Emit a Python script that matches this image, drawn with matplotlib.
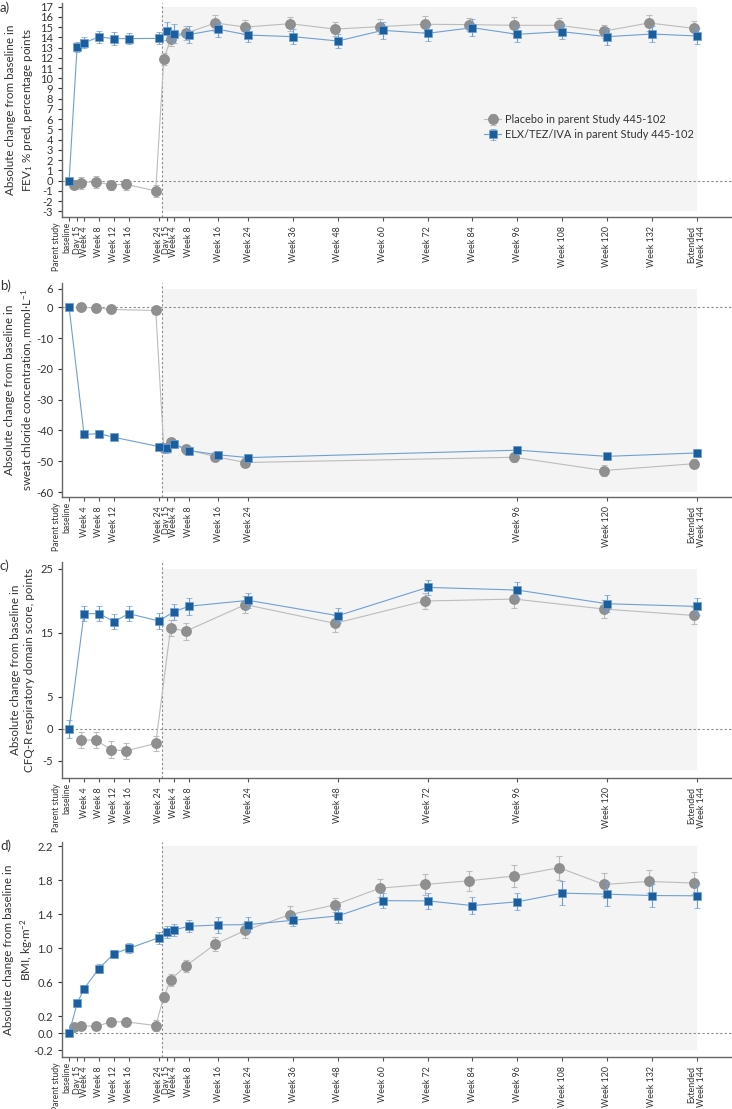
import matplotlib
matplotlib.use("Agg")
import matplotlib.pyplot as plt
import numpy as np

plt.rcParams["font.family"] = ["Lato", "DejaVu Sans"]
plt.rcParams["axes.unicode_minus"] = False
plt.rcParams["mathtext.default"] = "regular"

DAY15 = 15 / 7

# ---- a) FEV1 % pred
a_parent_weeks = [DAY15, 4, 8, 12, 16, 24]
a_ext_weeks = [DAY15, 4, 8, 16, 24, 36, 48, 60, 72, 84, 96, 108, 120, 132, 144]
a_parent_labels = ["Day 15", "Week 4", "Week 8", "Week 12", "Week 16", "Week 24"]
a_ext_labels = ["Day 15", "Week 4", "Week 8", "Week 16", "Week 24", "Week 36", "Week 48",
                "Week 60", "Week 72", "Week 84", "Week 96", "Week 108", "Week 120",
                "Week 132", "Extended\nWeek 144"]
a_pbo = [-0.39, -0.2, -0.1, -0.42, -0.36, -1.0,
         11.85, 13.83, 14.39, 15.4, 15.0, 15.33, 14.8, 15.04, 15.27, 15.24, 15.17, 15.17,
         14.6, 15.4, 14.88]
a_pbo_err = [0.45, 0.6, 0.6, 0.5, 0.55, 0.6,
             0.6, 0.7, 0.7, 0.75, 0.65, 0.7, 0.7, 0.7, 0.8, 0.65, 0.8, 0.7, 0.65, 0.75, 0.7]
a_elx = [0, 13.08, 13.47, 14.03, 13.87, 13.87, 13.9,
         14.6, 14.36, 14.26, 14.78, 14.22, 14.06, 13.64, 14.68, 14.39, 14.94, 14.29, 14.55,
         14.06, 14.32, 14.13]
a_elx_err = [0, 0.5, 0.55, 0.6, 0.6, 0.55, 0.6,
             0.85, 0.9, 0.85, 0.75, 0.7, 0.75, 0.7, 0.8, 0.8, 0.8, 0.75, 0.75, 0.8, 0.8, 0.8]

# ---- b) sweat chloride
b_parent_weeks = [4, 8, 12, 24]
b_ext_weeks = [DAY15, 4, 8, 16, 24, 96, 120, 144]
b_parent_labels = ["Week 4", "Week 8", "Week 12", "Week 24"]
b_ext_labels = ["Day 15", "Week 4", "Week 8", "Week 16", "Week 24", "Week 96", "Week 120",
                "Extended\nWeek 144"]
b_pbo = [0.0, -0.2, -0.7, -1.0,
         -45.6, -43.7, -46.1, -48.5, -50.4, -48.7, -53.0, -50.8]
b_pbo_err = [0.8, 0.8, 0.9, 1.0,
             1.3, 1.4, 1.4, 1.5, 1.4, 1.5, 1.7, 1.5]
b_elx = [0, -41.3, -41.0, -42.2, -45.2,
         -45.8, -44.4, -46.5, -47.9, -48.8, -46.4, -48.4, -47.3]
b_elx_err = [0, 1.0, 1.0, 1.0, 1.2,
             1.4, 1.3, 1.3, 1.2, 1.2, 1.3, 1.2, 1.2]

# ---- c) CFQ-R respiratory domain
c_parent_weeks = [4, 8, 12, 16, 24]
c_ext_weeks = [4, 8, 24, 48, 72, 96, 120, 144]
c_parent_labels = ["Week 4", "Week 8", "Week 12", "Week 16", "Week 24"]
c_ext_labels = ["Week 4", "Week 8", "Week 24", "Week 48", "Week 72", "Week 96", "Week 120",
                "Extended\nWeek 144"]
c_pbo = [-1.77, -1.77, -3.27, -3.48, -2.29,
         15.75, 15.23, 19.39, 16.46, 19.95, 20.26, 18.7, 17.7]
c_pbo_err = [1.2, 1.2, 1.3, 1.3, 1.2,
             1.3, 1.3, 1.3, 1.3, 1.3, 1.4, 1.4, 1.3]
c_elx = [0, 17.98, 17.98, 16.74, 17.98, 16.84,
         18.24, 19.13, 20.06, 17.66, 22.08, 21.67, 19.53, 19.11]
c_elx_err = [1.4, 1.2, 1.2, 1.2, 1.2, 1.2,
             1.3, 1.3, 1.2, 1.2, 1.2, 1.3, 1.3, 1.3]

# ---- d) BMI
d_parent_weeks = [DAY15, 4, 8, 12, 16, 24]
d_ext_weeks = [DAY15, 4, 8, 16, 24, 36, 48, 60, 72, 84, 96, 108, 120, 132, 144]
d_parent_labels = a_parent_labels
d_ext_labels = a_ext_labels
d_pbo = [0.075, 0.09, 0.079, 0.134, 0.134, 0.09,
         0.426, 0.63, 0.79, 1.05, 1.21, 1.396, 1.51, 1.707, 1.75, 1.794, 1.85, 1.948,
         1.75, 1.786, 1.767]
d_pbo_err = [0.03, 0.04, 0.04, 0.05, 0.05, 0.06,
             0.06, 0.07, 0.07, 0.08, 0.09, 0.1, 0.08, 0.11, 0.12, 0.12, 0.13, 0.14,
             0.13, 0.14, 0.13]
d_elx = [0, 0.35, 0.524, 0.761, 0.935, 0.998, 1.124,
         1.19, 1.214, 1.258, 1.274, 1.278, 1.329, 1.38, 1.56, 1.557, 1.502, 1.546, 1.648,
         1.636, 1.62, 1.617]
d_elx_err = [0, 0.04, 0.04, 0.05, 0.05, 0.06, 0.07,
             0.07, 0.07, 0.07, 0.09, 0.09, 0.07, 0.08, 0.09, 0.09, 0.1, 0.1, 0.14,
             0.14, 0.14, 0.14]

GREY = "#8f8f8f"
GREY_LIGHT = "#bcbcbc"
BLUE = "#1b5e9e"
BLUE_LIGHT = "#6f9fd2"
SPLIT = 24.8

fig = plt.figure(figsize=(7.32, 11.09), dpi=100)
H = 1109
W = 732


def draw_panel(ax, parent_weeks, ext_weeks, parent_labels, ext_labels,
               pbo, pbo_err, elx, elx_err, yticks, ylim, shade_y, ylabel):
    parent_x = list(parent_weeks)
    ext_x = [24 + w for w in ext_weeks]
    visit_x = np.array(parent_x + ext_x)
    elx_x = np.concatenate([[0], visit_x])

    # open-label extension shading, zero line and split line
    ax.fill_between([SPLIT, 168], shade_y[0], shade_y[1], color="#f4f4f4", lw=0, zorder=0)
    ax.axhline(0, color="#8a8a8a", lw=0.8, ls=(0, (2, 2)), zorder=1)
    ax.axvline(SPLIT, color="#8a8a8a", lw=0.8, ls=(0, (2, 2)), zorder=1)

    ax.errorbar(visit_x - 0.8, pbo, yerr=pbo_err, color=GREY_LIGHT, lw=0.8,
                ecolor=GREY_LIGHT, elinewidth=0.8, capsize=2.5, capthick=0.8,
                marker="o", ms=6.8, mfc=GREY, mec=GREY, zorder=3,
                label="Placebo in parent Study 445-102")
    ax.errorbar(elx_x, elx, yerr=elx_err, color=BLUE_LIGHT, lw=0.8,
                ecolor=BLUE_LIGHT, elinewidth=0.8, capsize=2.5, capthick=0.8,
                marker="s", ms=6.4, mfc=BLUE, mec=BLUE_LIGHT, mew=0.5, zorder=4,
                label="ELX/TEZ/IVA in parent Study 445-102")

    ax.set_xlim(-1.9, 177.5)
    ax.set_ylim(*ylim)
    ax.set_yticks(yticks)
    ax.set_yticklabels([f"{t:g}" if isinstance(t, int) else f"{t:.1f}" for t in yticks])
    ax.set_xticks(np.concatenate([[0], visit_x]))
    ax.set_xticklabels([""] + list(parent_labels) + list(ext_labels),
                       rotation=90, ha="center", va="top", multialignment="right",
                       fontsize=6.4, color="#333333")
    # baseline label sits a little to the left of its tick
    ax.annotate("Parent study\nbaseline", xy=(0, 0), xycoords=("data", "axes fraction"),
                xytext=(-7, -5), textcoords="offset pixels", rotation=90,
                ha="center", va="top", multialignment="right", fontsize=6.2,
                color="#333333", annotation_clip=False)

    ax.tick_params(axis="y", labelsize=8, colors="#333333", length=3, width=0.8)
    ax.tick_params(axis="x", length=3, width=0.8, colors="#555555", labelcolor="#333333")
    for s in ("top", "right"):
        ax.spines[s].set_visible(False)
    for s in ("left", "bottom"):
        ax.spines[s].set_color("#666666")
        ax.spines[s].set_linewidth(1.0)
    ax.set_ylabel(ylabel, fontsize=8.4, color="#333333", linespacing=1.3)
    ax.yaxis.set_label_coords(-0.041, 0.5)


def axes_px(top, bottom):
    return fig.add_axes([62 / W, 1 - bottom / H, 1 - 62 / W, (bottom - top) / H])


ax_a = axes_px(3, 217)
draw_panel(ax_a, a_parent_weeks, a_ext_weeks, a_parent_labels, a_ext_labels,
           a_pbo, a_pbo_err, a_elx, a_elx_err,
           list(range(-3, 18)), (-3.55, 17.35), (-3, 17),
           "Absolute change from baseline in\nFEV$_1$ % pred, percentage points")
ax_a.legend(loc="center left", bbox_to_anchor=(0.615, 0.42), frameon=False,
            fontsize=7.9, handlelength=1.6, handletextpad=0.3, labelspacing=0.4,
            labelcolor="#333333")

ax_b = axes_px(283, 497)
draw_panel(ax_b, b_parent_weeks, b_ext_weeks, b_parent_labels, b_ext_labels,
           b_pbo, b_pbo_err, b_elx, b_elx_err,
           [6, 0, -10, -20, -30, -40, -50, -60], (-61.6, 7.9), (-60, 6),
           "Absolute change from baseline in\nsweat chloride concentration, mmol·L$^{-1}$")

ax_c = axes_px(562, 778)
draw_panel(ax_c, c_parent_weeks, c_ext_weeks, c_parent_labels, c_ext_labels,
           c_pbo, c_pbo_err, c_elx, c_elx_err,
           [25, 15, 5, 0, -5], (-7.7, 26.05), (-6.5, 25),
           "Absolute change from baseline in\nCFQ-R respiratory domain score, points")

ax_d = axes_px(842, 1057)
draw_panel(ax_d, d_parent_weeks, d_ext_weeks, d_parent_labels, d_ext_labels,
           d_pbo, d_pbo_err, d_elx, d_elx_err,
           [2.2, 1.8, 1.4, 1.0, 0.6, 0.2, 0.0, -0.2], (-0.28, 2.25), (-0.2, 2.2),
           "Absolute change from baseline in\nBMI, kg·m$^{-2}$")

for lab, top in zip(["a)", "b)", "c)", "d)"], [3, 281, 561, 841]):
    fig.text(0.0, 1 - (top + 5) / H, lab, fontsize=9.5, color="#333333", va="center")

fig.savefig("out.png", dpi=100)
